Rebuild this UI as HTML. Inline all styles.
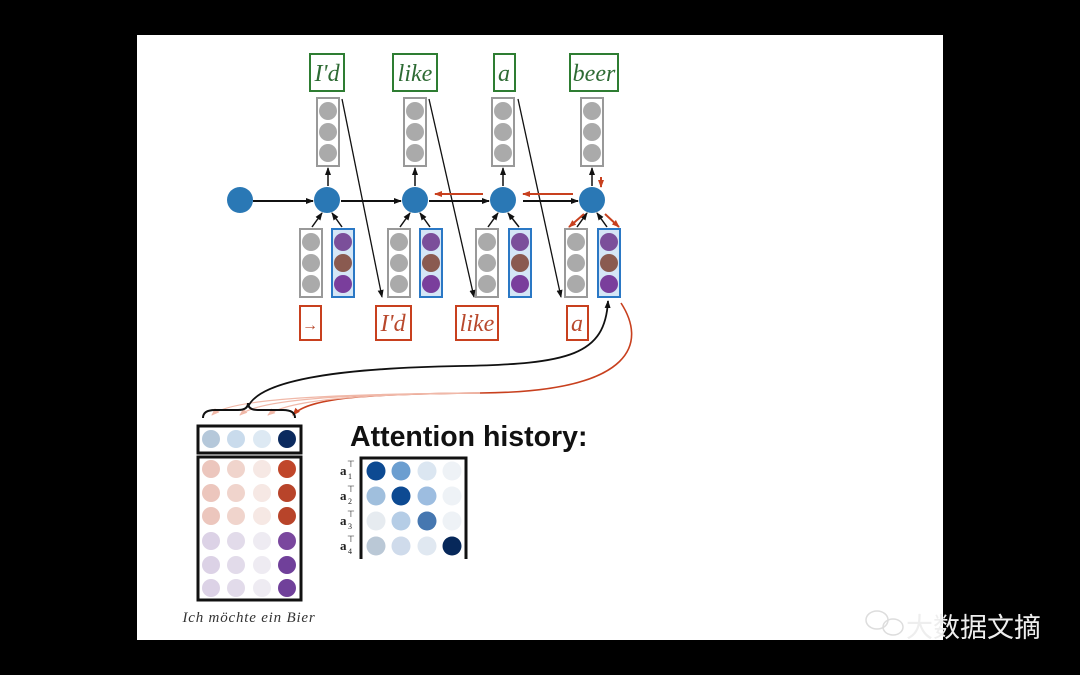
<!DOCTYPE html>
<html><head><meta charset="utf-8"><style>
html,body{margin:0;padding:0;background:#000;width:1080px;height:675px;overflow:hidden}
svg{display:block}
</style></head><body>
<svg width="1080" height="675" viewBox="0 0 1080 675" xmlns="http://www.w3.org/2000/svg">
<defs>
<marker id="ab" markerWidth="8" markerHeight="8" refX="7" refY="4" orient="auto" markerUnits="userSpaceOnUse"><path d="M0,1 L8,4 L0,7 z" fill="#111"/></marker>
<marker id="ar" markerWidth="8" markerHeight="8" refX="7" refY="4" orient="auto" markerUnits="userSpaceOnUse"><path d="M0,1 L8,4 L0,7 z" fill="#c8401e"/></marker>
<marker id="arl" markerWidth="8" markerHeight="8" refX="7" refY="4" orient="auto" markerUnits="userSpaceOnUse"><path d="M0,1 L8,4 L0,7 z" fill="#f0b8a8"/></marker>
</defs>
<rect width="1080" height="675" fill="#000"/>
<rect x="137" y="35" width="806" height="605" fill="#fff"/>

<g fill="none" stroke="#2e7d32" stroke-width="2">
<rect x="310" y="54" width="34" height="37"/><rect x="393" y="54" width="44" height="37"/>
<rect x="494" y="54" width="21" height="37"/><rect x="570" y="54" width="48" height="37"/>
</g>
<g font-family="Liberation Serif,serif" font-style="italic" font-size="24" fill="#2e6b34" text-anchor="middle">
<text x="327" y="81">I'd</text><text x="415" y="81">like</text><text x="504" y="81">a</text><text x="594" y="81">beer</text>
</g>

<g>
<rect x="317" y="98" width="22" height="68" fill="#fff" stroke="#999" stroke-width="2"/>
<rect x="404" y="98" width="22" height="68" fill="#fff" stroke="#999" stroke-width="2"/>
<rect x="492" y="98" width="22" height="68" fill="#fff" stroke="#999" stroke-width="2"/>
<rect x="581" y="98" width="22" height="68" fill="#fff" stroke="#999" stroke-width="2"/>
</g>
<g fill="#aaa">
<circle cx="328" cy="111" r="9"/><circle cx="328" cy="132" r="9"/><circle cx="328" cy="153" r="9"/>
<circle cx="415" cy="111" r="9"/><circle cx="415" cy="132" r="9"/><circle cx="415" cy="153" r="9"/>
<circle cx="503" cy="111" r="9"/><circle cx="503" cy="132" r="9"/><circle cx="503" cy="153" r="9"/>
<circle cx="592" cy="111" r="9"/><circle cx="592" cy="132" r="9"/><circle cx="592" cy="153" r="9"/>
</g>

<g stroke="#111" stroke-width="1.5" marker-end="url(#ab)">
<line x1="328" y1="186" x2="328" y2="168"/><line x1="415" y1="186" x2="415" y2="168"/>
<line x1="503" y1="186" x2="503" y2="168"/><line x1="592" y1="186" x2="592" y2="168"/>
</g>

<g stroke="#111" stroke-width="2" marker-end="url(#ab)">
<line x1="253" y1="201" x2="313" y2="201"/><line x1="341" y1="201" x2="401" y2="201"/>
<line x1="429" y1="201" x2="489" y2="201"/><line x1="523" y1="201" x2="578" y2="201"/>
</g>
<g fill="#2a78b5">
<circle cx="240" cy="200" r="13"/><circle cx="327" cy="200" r="13"/><circle cx="415" cy="200" r="13"/>
<circle cx="503" cy="200" r="13"/><circle cx="592" cy="200" r="13"/>
</g>

<g stroke-width="2">
<rect x="300" y="229" width="22" height="68" fill="#fff" stroke="#999"/>
<rect x="332" y="229" width="22" height="68" fill="#d5e6f6" stroke="#2a78c5"/>
<rect x="388" y="229" width="22" height="68" fill="#fff" stroke="#999"/>
<rect x="420" y="229" width="22" height="68" fill="#d5e6f6" stroke="#2a78c5"/>
<rect x="476" y="229" width="22" height="68" fill="#fff" stroke="#999"/>
<rect x="509" y="229" width="22" height="68" fill="#d5e6f6" stroke="#2a78c5"/>
<rect x="565" y="229" width="22" height="68" fill="#fff" stroke="#999"/>
<rect x="598" y="229" width="22" height="68" fill="#d5e6f6" stroke="#2a78c5"/>
</g>
<g fill="#aaa">
<circle cx="311" cy="242" r="9"/><circle cx="311" cy="263" r="9"/><circle cx="311" cy="284" r="9"/>
<circle cx="399" cy="242" r="9"/><circle cx="399" cy="263" r="9"/><circle cx="399" cy="284" r="9"/>
<circle cx="487" cy="242" r="9"/><circle cx="487" cy="263" r="9"/><circle cx="487" cy="284" r="9"/>
<circle cx="576" cy="242" r="9"/><circle cx="576" cy="263" r="9"/><circle cx="576" cy="284" r="9"/>
</g>
<g>
<circle cx="343" cy="242" r="9" fill="#7b4f9a"/><circle cx="343" cy="263" r="9" fill="#8a5a50"/><circle cx="343" cy="284" r="9" fill="#7a3e9c"/>
<circle cx="431" cy="242" r="9" fill="#7b4f9a"/><circle cx="431" cy="263" r="9" fill="#8a5a50"/><circle cx="431" cy="284" r="9" fill="#7a3e9c"/>
<circle cx="520" cy="242" r="9" fill="#7b4f9a"/><circle cx="520" cy="263" r="9" fill="#8a5a50"/><circle cx="520" cy="284" r="9" fill="#7a3e9c"/>
<circle cx="609" cy="242" r="9" fill="#7b4f9a"/><circle cx="609" cy="263" r="9" fill="#8a5a50"/><circle cx="609" cy="284" r="9" fill="#7a3e9c"/>
</g>
<g stroke="#111" stroke-width="1.5" marker-end="url(#ab)">
<line x1="312" y1="227" x2="322" y2="213"/><line x1="342" y1="227" x2="332" y2="213"/>
<line x1="400" y1="227" x2="410" y2="213"/><line x1="430" y1="227" x2="420" y2="213"/>
<line x1="488" y1="227" x2="498" y2="213"/><line x1="519" y1="227" x2="508" y2="213"/>
<line x1="577" y1="227" x2="587" y2="213"/><line x1="607" y1="227" x2="597" y2="213"/>
</g>

<g stroke="#111" stroke-width="1.3" marker-end="url(#ab)">
<line x1="342" y1="99" x2="382" y2="297"/><line x1="429" y1="99" x2="474" y2="297"/>
<line x1="518" y1="99" x2="561" y2="297"/>
</g>

<g stroke="#c8401e" stroke-width="2" marker-end="url(#ar)">
<line x1="483" y1="194" x2="435" y2="194"/><line x1="573" y1="194" x2="523" y2="194"/>
<line x1="601" y1="177" x2="601" y2="187"/>
<line x1="584" y1="214" x2="569" y2="227"/><line x1="605" y1="214" x2="619" y2="227"/>
</g>

<g fill="none" stroke="#c8401e" stroke-width="2">
<rect x="300" y="306" width="21" height="34"/><rect x="376" y="306" width="35" height="34"/>
<rect x="456" y="306" width="42" height="34"/><rect x="567" y="306" width="21" height="34"/>
</g>
<g font-family="Liberation Serif,serif" font-style="italic" font-size="24" fill="#b8482c" text-anchor="middle">
<text x="310" y="330" font-style="normal" font-size="16">→</text><text x="393" y="331">I'd</text><text x="477" y="331">like</text><text x="577" y="331">a</text>
</g>

<path d="M621,303 C645,340 640,392 480,393 C380,394 310,396 293,415" fill="none" stroke="#c8401e" stroke-width="1.6" marker-end="url(#ar)"/>
<path d="M480,393 C380,394 290,398 268,415" fill="none" stroke="#f0b8a8" stroke-width="1.2" marker-end="url(#arl)"/>
<path d="M480,393 C360,394 260,398 240,415" fill="none" stroke="#f0b8a8" stroke-width="1.2" marker-end="url(#arl)"/>
<path d="M480,393 C340,394 230,398 212,415" fill="none" stroke="#f0b8a8" stroke-width="1.2" marker-end="url(#arl)"/>
<path d="M248,407 C260,378 350,368 460,366 C570,364 605,355 608,301" fill="none" stroke="#111" stroke-width="1.8" marker-end="url(#ab)"/>
<path d="M203,418 Q203,410 215,410 L238,410 Q248,410 248,403 Q248,410 258,410 L283,410 Q295,410 295,418" fill="none" stroke="#111" stroke-width="2"/>

<rect x="198" y="426" width="103" height="27" fill="#fff" stroke="#111" stroke-width="3"/>
<circle cx="211" cy="439" r="9" fill="#b5c8da"/><circle cx="236" cy="439" r="9" fill="#c9dbec"/>
<circle cx="262" cy="439" r="9" fill="#dde9f3"/><circle cx="287" cy="439" r="9" fill="#0b2a5e"/>
<rect x="198" y="457" width="103" height="143" fill="#fff" stroke="#111" stroke-width="3"/>
<g>
<circle cx="211" cy="469" r="9" fill="#ecc6bd"/><circle cx="236" cy="469" r="9" fill="#f0d4cc"/><circle cx="262" cy="469" r="9" fill="#f6e8e4"/><circle cx="287" cy="469" r="9" fill="#c0462a"/>
<circle cx="211" cy="493" r="9" fill="#ecc6bd"/><circle cx="236" cy="493" r="9" fill="#f0d4cc"/><circle cx="262" cy="493" r="9" fill="#f6e8e4"/><circle cx="287" cy="493" r="9" fill="#b8442a"/>
<circle cx="211" cy="516" r="9" fill="#ecc6bd"/><circle cx="236" cy="516" r="9" fill="#f0d4cc"/><circle cx="262" cy="516" r="9" fill="#f6e8e4"/><circle cx="287" cy="516" r="9" fill="#b8442a"/>
<circle cx="211" cy="541" r="9" fill="#dcd2e6"/><circle cx="236" cy="541" r="9" fill="#e2dbea"/><circle cx="262" cy="541" r="9" fill="#eeebf2"/><circle cx="287" cy="541" r="9" fill="#7a479e"/>
<circle cx="211" cy="565" r="9" fill="#dcd2e6"/><circle cx="236" cy="565" r="9" fill="#e2dbea"/><circle cx="262" cy="565" r="9" fill="#eeebf2"/><circle cx="287" cy="565" r="9" fill="#70409a"/>
<circle cx="211" cy="588" r="9" fill="#dcd2e6"/><circle cx="236" cy="588" r="9" fill="#e2dbea"/><circle cx="262" cy="588" r="9" fill="#eeebf2"/><circle cx="287" cy="588" r="9" fill="#70409a"/>
</g>
<text x="249" y="622" text-anchor="middle" font-family="Liberation Serif,serif" font-style="italic" font-size="15" letter-spacing="0.8" fill="#333">Ich möchte ein Bier</text>

<text x="350" y="446" font-family="Liberation Sans,sans-serif" font-weight="bold" font-size="28.5" fill="#111">Attention history:</text>
<path d="M361,559 L361,458 L466,458 L466,559" fill="none" stroke="#111" stroke-width="3"/>
<g>
<circle cx="376" cy="471" r="9.5" fill="#0d4a92"/><circle cx="401" cy="471" r="9.5" fill="#6b9ed0"/><circle cx="427" cy="471" r="9.5" fill="#dbe6f1"/><circle cx="452" cy="471" r="9.5" fill="#eef2f6"/>
<circle cx="376" cy="496" r="9.5" fill="#a0bfdd"/><circle cx="401" cy="496" r="9.5" fill="#0d4a92"/><circle cx="427" cy="496" r="9.5" fill="#9dbde0"/><circle cx="452" cy="496" r="9.5" fill="#eef2f6"/>
<circle cx="376" cy="521" r="9.5" fill="#e6ebf0"/><circle cx="401" cy="521" r="9.5" fill="#b5cde6"/><circle cx="427" cy="521" r="9.5" fill="#4677b0"/><circle cx="452" cy="521" r="9.5" fill="#eef2f6"/>
<circle cx="376" cy="546" r="9.5" fill="#bac8d6"/><circle cx="401" cy="546" r="9.5" fill="#cfdbeb"/><circle cx="427" cy="546" r="9.5" fill="#e0e8f1"/><circle cx="452" cy="546" r="9.5" fill="#07285a"/>
</g>
<g font-family="Liberation Serif,serif" font-size="13" font-weight="bold" fill="#222">
<text x="340" y="475">a</text><text x="348" y="479" font-size="8" font-weight="normal">1</text><text x="347" y="467" font-size="9" font-weight="normal">⊤</text>
<text x="340" y="500">a</text><text x="348" y="504" font-size="8" font-weight="normal">2</text><text x="347" y="492" font-size="9" font-weight="normal">⊤</text>
<text x="340" y="525">a</text><text x="348" y="529" font-size="8" font-weight="normal">3</text><text x="347" y="517" font-size="9" font-weight="normal">⊤</text>
<text x="340" y="550">a</text><text x="348" y="554" font-size="8" font-weight="normal">4</text><text x="347" y="542" font-size="9" font-weight="normal">⊤</text>
</g>

<g fill="none" stroke="#ddd" stroke-width="1.5">
<ellipse cx="877" cy="620" rx="11" ry="9"/><ellipse cx="893" cy="627" rx="10" ry="8"/>
</g>
<text x="906" y="637" font-family="Liberation Sans,'Noto Sans CJK SC',sans-serif" font-size="27" fill="#eee">大数据文摘</text>
</svg>
</body></html>
